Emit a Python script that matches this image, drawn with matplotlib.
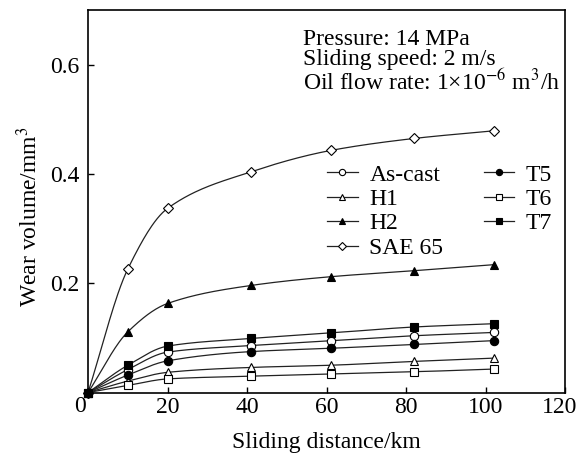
import numpy as np
import matplotlib
matplotlib.use("Agg")
import matplotlib.pyplot as plt
from matplotlib.transforms import ScaledTranslation

plt.rcParams['font.family'] = ['Liberation Serif', 'DejaVu Serif']
plt.rcParams['mathtext.fontset'] = 'stix'

distance = [0, 10, 20, 41, 61, 82, 102]
as_cast = [0, 0.042, 0.074, 0.086, 0.095, 0.104, 0.110]
h1 = [0, 0.021, 0.037, 0.046, 0.050, 0.057, 0.063]
h2 = [0, 0.111, 0.163, 0.196, 0.212, 0.223, 0.234]
sae65 = [0, 0.226, 0.337, 0.404, 0.443, 0.465, 0.479]
t5 = [0, 0.032, 0.058, 0.075, 0.081, 0.088, 0.095]
t6 = [0, 0.013, 0.025, 0.030, 0.034, 0.038, 0.043]
t7 = [0, 0.050, 0.085, 0.099, 0.109, 0.120, 0.126]

series = [
    ("As-cast", as_cast, 'o', 'white'),
    ("H1", h1, '^', 'white'),
    ("H2", h2, '^', 'black'),
    ("SAE 65", sae65, 'D', 'white'),
    ("T5", t5, 'o', 'black'),
    ("T6", t6, 's', 'white'),
    ("T7", t7, 's', 'black'),
]


def pchip(x, y, xs):
    x = np.asarray(x, float); y = np.asarray(y, float)
    h = np.diff(x); d = np.diff(y) / h
    n = len(x); m = np.zeros(n)
    for k in range(1, n - 1):
        if d[k - 1] * d[k] > 0:
            w1 = 2 * h[k] + h[k - 1]; w2 = h[k] + 2 * h[k - 1]
            m[k] = (w1 + w2) / (w1 / d[k - 1] + w2 / d[k])
    m[0] = d[0]; m[-1] = d[-1]
    ys = np.empty_like(xs)
    idx = np.clip(np.searchsorted(x, xs) - 1, 0, n - 2)
    for j, xv in enumerate(xs):
        k = idx[j]; t = (xv - x[k]) / h[k]
        h00 = 2*t**3 - 3*t**2 + 1; h10 = t**3 - 2*t**2 + t
        h01 = -2*t**3 + 3*t**2; h11 = t**3 - t**2
        ys[j] = h00*y[k] + h10*h[k]*m[k] + h01*y[k+1] + h11*h[k]*m[k+1]
    return ys


fig = plt.figure(figsize=(5.79, 4.57), dpi=100)
ax = fig.add_axes([0.152, 0.141, 0.824, 0.837])

xs = np.linspace(distance[0], distance[-1], 300)
handles = []
for name, vals, mk, fc in series:
    ax.plot(xs, pchip(distance, vals, xs), color='#222222', lw=0.9)
    ms = 5.5 if mk == 'D' else 6
    ax.plot(distance, vals, linestyle='none', marker=mk, mfc=fc, mec='black',
            mew=0.8, ms=ms, clip_on=False, zorder=3)
    h, = ax.plot([], [], color='#222222', lw=0.9, marker=mk, mfc=fc,
                 mec='black', mew=0.8, ms=ms * 0.75)
    h.set_label(name)
    handles.append(h)

ax.set_xlim(0, 120)
ax.set_ylim(0, 0.7)
ax.set_xticks([20, 40, 60, 80, 100, 120])
ax.set_yticks([0.2, 0.4, 0.6])
ax.set_yticklabels(['0.2', '0.4', '0.6'])
ax.tick_params(direction='in', length=4, width=1, labelsize=17)
ax.tick_params(axis='x', pad=3)
ax.tick_params(axis='y', pad=6)
for s in ax.spines.values():
    s.set_linewidth(1.2)
# shift last x tick label left so it stays inside the figure
lbl = ax.get_xticklabels()[-1]
lbl.set_transform(lbl.get_transform() + ScaledTranslation(-5/100, 0, fig.dpi_scale_trans))

ax.text(-0.004, -0.01, '0', transform=ax.transAxes, ha='right', va='top', fontsize=17)

ax.set_xlabel('Sliding distance/km', fontsize=17, labelpad=10)
ax.set_ylabel('Wear volume/mm$^3$', fontsize=17)
ax.yaxis.set_label_coords(-0.097, 0.46)

ax.text(0.45, 0.95, 'Pressure: 14 MPa\nSliding speed: 2 m/s\nOil flow rate: 1×10$^{-6}$ m$^3$/h',
        transform=ax.transAxes, ha='left', va='top', fontsize=17, linespacing=0.95)

leg = ax.legend(handles=handles, ncol=2, frameon=False, fontsize=17,
                loc='upper left', bbox_to_anchor=(0.476, 0.628),
                handlelength=1.3, handletextpad=0.5, columnspacing=1.7,
                labelspacing=0.12, borderpad=0)

fig.savefig('out.png', dpi=100)
